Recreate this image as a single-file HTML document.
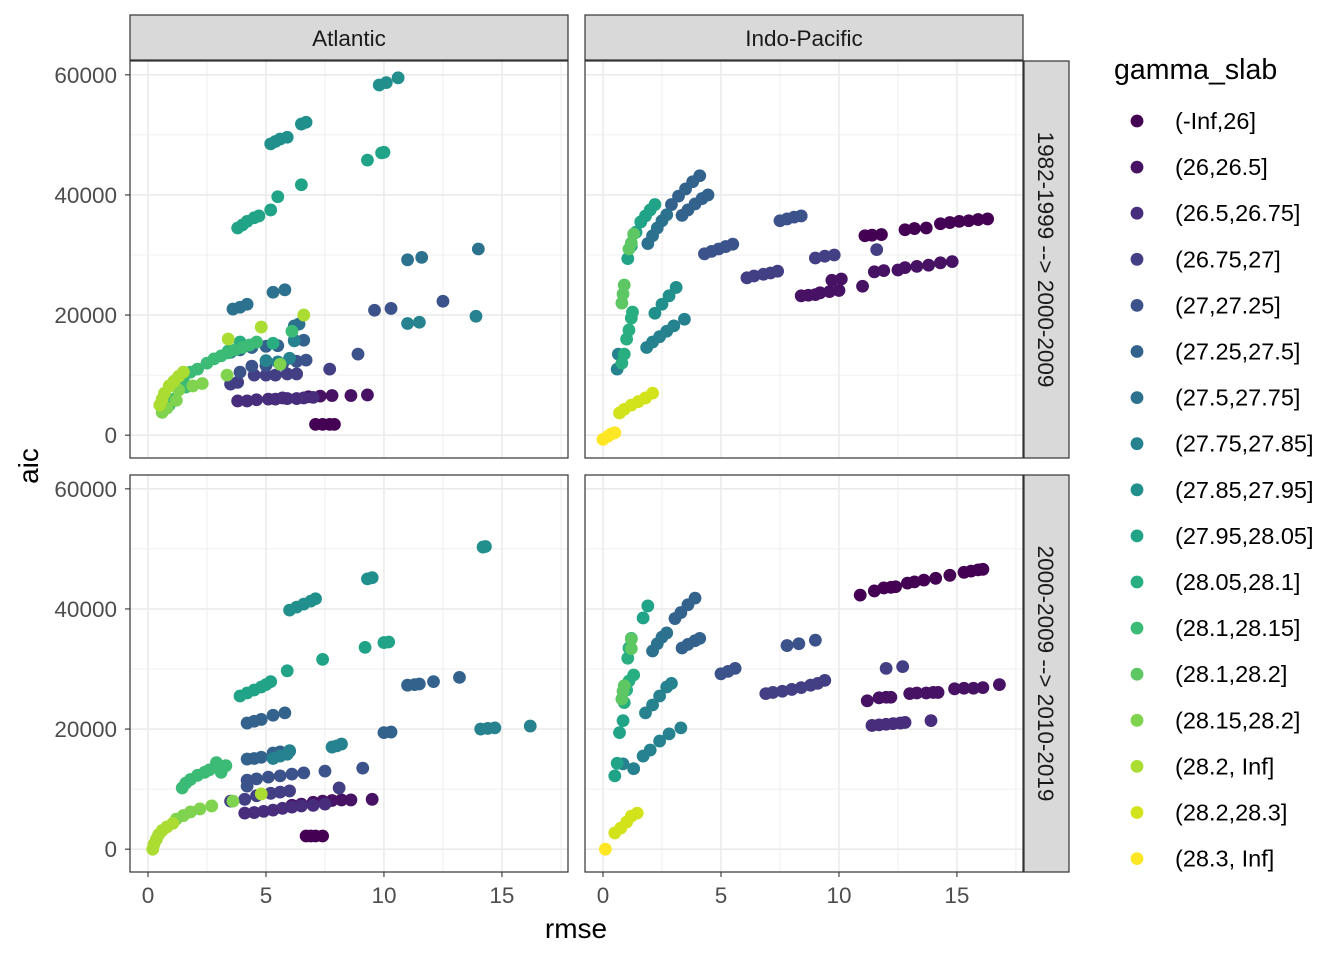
<!DOCTYPE html>
<html><head><meta charset="utf-8"><style>
body{margin:0;background:#fff;}
svg{display:block;font-family:"Liberation Sans",sans-serif;}
</style></head><body>
<svg id="chart" width="1344" height="960" xmlns="http://www.w3.org/2000/svg"></svg>
<script>
const classLabels = ["(-Inf,26]","(26,26.5]","(26.5,26.75]","(26.75,27]","(27,27.25]","(27.25,27.5]","(27.5,27.75]","(27.75,27.85]","(27.85,27.95]","(27.95,28.05]","(28.05,28.1]","(28.1,28.15]","(28.1,28.2]","(28.15,28.2]","(28.2, Inf]","(28.2,28.3]","(28.3, Inf]"];
const classColors = ["#440154","#471164","#472D7B","#423F85","#3B528B","#33638D","#2C728E","#26828E","#21908C","#20A386","#28AE80","#3BBB75","#5DC863","#7FD34E","#AADC32","#D2E21B","#FDE725"];
const xTicks = [0,5,10,15];
const yTicks = [0,20000,40000,60000];
const colLabels = ["Atlantic","Indo-Pacific"];
const rowLabels = ["1982-1999 --> 2000-2009","2000-2009 --> 2010-2019"];
// points: [rmse, aic (thousands), class index]
const atl1 = [[7.1,1.8,0],[7.4,1.8,0],[7.7,1.8,0],[7.9,1.8,0],
[6.8,6.4,1],[7.3,6.5,1],[7.8,6.6,1],[8.6,6.6,1],[9.3,6.7,1],
[3.8,5.7,2],[4.2,5.7,2],[4.6,5.9,2],[5.1,6.0,2],[5.4,6.0,2],[5.7,6.2,2],[5.9,6.1,2],[6.3,6.1,2],[6.6,6.2,2],[7.0,6.3,2],
[3.5,8.5,3],[3.8,8.8,3],[4.5,10,3],[5.0,10,3],[5.4,10,3],[5.9,10.2,3],[6.3,10.2,3],[7.7,11,3],
[3.9,10.5,4],[4.4,11.5,4],[5.0,11.6,4],[5.7,11.8,4],[6.3,12.3,4],[6.7,12.5,4],[8.9,13.5,4],[9.6,20.8,4],[10.3,21.1,4],[12.5,22.3,4],
[3.5,13.8,5],[3.9,14.2,5],[4.4,14.6,5],[5.0,14.8,5],[5.5,14.9,5],[6.2,15.8,5],[6.6,15.8,5],
[3.6,21,6],[3.9,21.3,6],[4.2,21.8,6],[5.3,23.8,6],[5.8,24.2,6],[6.2,18.2,6],[6.4,18.5,6],[11,29.2,6],[11.6,29.6,6],[14,31,6],
[6.2,15.7,7],[6.0,12.8,7],[5.5,12.2,7],[5.0,12.4,7],[11,18.6,7],[11.5,18.8,7],[13.9,19.8,7],
[5.2,48.5,8],[5.4,48.9,8],[5.6,49.3,8],[5.9,49.6,8],[6.5,51.8,8],[6.7,52.1,8],[9.8,58.3,8],[10.1,58.7,8],[10.6,59.5,8],
[3.8,34.5,9],[4.0,35,9],[4.2,35.6,9],[4.5,36.2,9],[4.7,36.5,9],[5.2,37.5,9],[5.5,39.7,9],[6.5,41.7,9],[9.3,45.8,9],[9.9,47,9],[10.0,47.1,9],
[3.4,14,10],[3.9,15.5,10],[5.3,15.3,10],
[0.9,5,11],[1.1,6,11],[1.5,9.5,11],[1.6,8,11],[1.8,10.5,11],[2.1,11,11],[2.5,12,11],[2.8,12.7,11],[3.1,13.2,11],[3.4,13.7,11],[3.7,14.2,11],[4.0,14.6,11],[4.3,15,11],[4.6,15.5,11],[6.1,17.3,11],
[0.6,3.8,13],[0.8,4.5,13],[1.2,5.8,13],[1.3,7.5,13],[1.9,8.2,13],[2.3,8.6,13],[3.35,10,13],[5.6,11.8,13],
[0.5,5,14],[0.6,6,14],[0.7,7,14],[0.9,8.2,14],[1.1,9,14],[1.3,9.8,14],[1.5,10.5,14],[3.4,16,14],[4.8,18,14],[6.6,20,14]];
const ind1 = [[11.1,33.2,0],[11.4,33.3,0],[11.8,33.4,0],[12.8,34.2,0],[13.2,34.4,0],[13.7,34.5,0],[14.3,35.2,0],[14.7,35.4,0],[15.1,35.6,0],[15.5,35.7,0],[15.9,35.9,0],[16.3,36.0,0],
[8.4,23.2,1],[8.7,23.3,1],[9.0,23.4,1],[9.2,23.7,1],[9.6,23.9,1],[10.0,24.1,1],[9.7,25.8,1],[10.1,26,1],[11.0,24.8,1],[11.5,27.2,1],[11.9,27.4,1],[12.5,27.5,1],[12.8,27.9,1],[13.3,28.1,1],[13.8,28.3,1],[14.3,28.7,1],[14.8,28.9,1],
[6.1,26.2,3],[6.4,26.5,3],[6.8,26.8,3],[7.1,27,3],[7.4,27.3,3],[9.0,29.5,3],[9.4,29.8,3],[9.8,30,3],[11.6,30.9,3],
[7.5,35.7,4],[7.8,36,4],[8.1,36.3,4],[8.4,36.5,4],[4.3,30.2,4],[4.6,30.6,4],[4.9,31,4],[5.2,31.4,4],[5.5,31.8,4],
[3.35,36.6,5],[3.6,37.5,5],[3.9,38.5,5],[4.2,39.4,5],[4.45,40,5],[2.9,38.4,5],[3.2,39.8,5],[3.5,41,5],[3.8,42.2,5],[4.1,43.2,5],
[1.9,31.9,6],[2.1,33.2,6],[2.3,34.5,6],[2.5,35.7,6],[2.7,36.7,6],
[1.85,14.6,7],[2.1,15.5,7],[2.4,16.4,7],[2.7,17.3,7],[3.0,18.2,7],[3.45,19.3,7],[0.6,11,7],[0.65,13.5,7],
[2.2,20.3,8],[2.5,21.8,8],[2.8,23.2,8],[3.1,24.6,8],
[1.05,29.4,9],[1.2,31.5,9],[1.4,33.8,9],[1.6,35.5,9],[1.8,36.5,9],[2.0,37.5,9],[2.2,38.4,9],
[0.8,12,10],[0.9,13.5,10],[1.0,16,10],[1.1,17.5,10],[1.2,19.5,10],[1.25,20.5,10],
[1.1,31,12],[1.2,32,12],[1.3,33.5,12],[0.8,22,12],[0.85,23.5,12],[0.9,25,12],
[0.7,3.7,15],[0.9,4.3,15],[1.2,5,15],[1.5,5.6,15],[1.8,6.2,15],[2.1,7,15],
[0,-0.7,16],[0.2,-0.2,16],[0.35,0.2,16],[0.5,0.4,16]];
const atl2 = [[6.7,2.2,0],[6.9,2.2,0],[7.1,2.2,0],[7.4,2.2,0],
[6.1,7.3,1],[6.5,7.5,1],[7.0,7.8,1],[7.4,8,1],[7.8,8.1,1],[8.2,8.2,1],[8.6,8.2,1],[9.5,8.3,1],
[4.1,6,2],[4.5,6.1,2],[4.9,6.3,2],[5.3,6.5,2],[5.7,6.8,2],[6.1,7,2],[6.5,7.2,2],[7.0,7.3,2],[7.5,7.5,2],
[3.5,8,3],[4.1,8.3,3],[4.6,8.9,3],[5.2,9.3,3],[5.6,9.5,3],[6.0,9.7,3],[8.1,10.2,3],
[4.2,10.5,4],[4.2,11.5,4],[4.6,11.7,4],[5.1,12,4],[5.6,12.2,4],[6.1,12.5,4],[6.6,12.7,4],[7.5,13,4],[9.1,13.5,4],
[4.2,15,5],[4.5,15.1,5],[4.8,15.3,5],[5.3,16,5],[5.6,16.2,5],[6.0,16.3,5],[10.0,19.4,5],[10.3,19.5,5],[4.2,21,5],[4.5,21.3,5],[4.8,21.6,5],[5.3,22.3,5],[5.8,22.7,5],[11,27.3,5],[11.3,27.4,5],[11.5,27.5,5],[12.1,27.9,5],[13.2,28.6,5],
[5.3,15.1,7],[5.6,15.5,7],[5.9,15.8,7],[6.0,16.4,7],[7.8,17,7],[8.0,17.2,7],[8.2,17.5,7],[14.1,20,7],[14.4,20.1,7],[14.7,20.2,7],[16.2,20.5,7],
[6.0,39.8,8],[6.3,40.3,8],[6.6,40.8,8],[6.9,41.3,8],[7.1,41.7,8],[9.3,45,8],[9.5,45.2,8],[14.2,50.3,8],[14.3,50.4,8],
[3.9,25.5,9],[4.2,26,9],[4.5,26.5,9],[4.8,27,9],[5.0,27.4,9],[5.2,27.9,9],[5.9,29.7,9],[7.4,31.6,9],[9.2,33.6,9],[10.0,34.4,9],[10.2,34.5,9],
[1.45,10.2,11],[1.6,11,11],[1.8,11.6,11],[2.1,12.3,11],[2.4,12.8,11],[2.6,13.2,11],[2.9,14.4,11],[3.1,12.8,11],[3.3,13.9,11],
[1.2,5,13],[1.5,5.6,13],[1.8,6.2,13],[2.2,6.7,13],[2.7,7.2,13],[3.6,8,13],
[0.2,0,14],[0.25,0.8,14],[0.35,1.6,14],[0.45,2.4,14],[0.6,3.1,14],[0.8,3.7,14],[1.05,4.3,14],[4.8,9.2,14]];
const ind2 = [[10.9,42.3,0],[11.5,43,0],[11.9,43.5,0],[12.2,43.6,0],[12.4,43.7,0],[12.9,44.3,0],[13.2,44.5,0],[13.6,44.8,0],[14.1,45.1,0],[14.7,45.6,0],[15.3,46.1,0],[15.6,46.3,0],[15.9,46.5,0],[16.1,46.6,0],
[11.2,24.7,1],[11.7,25.2,1],[12.0,25.3,1],[12.2,25.3,1],[13,25.9,1],[13.3,26,1],[13.7,26,1],[14.0,26.1,1],[14.2,26.1,1],[14.9,26.7,1],[15.3,26.8,1],[15.7,26.8,1],[16.1,26.9,1],[16.8,27.4,1],
[11.4,20.6,2],[11.7,20.7,2],[12.0,20.8,2],[12.3,20.9,2],[12.6,21,2],[12.8,21.1,2],[13.9,21.4,2],
[12.0,30.1,3],[12.7,30.4,3],[6.9,25.9,3],[7.2,26.1,3],[7.6,26.3,3],[8.0,26.6,3],[8.4,26.9,3],[8.8,27.3,3],[9.1,27.6,3],[9.4,28.1,3],
[7.8,33.9,4],[8.3,34.2,4],[9.0,34.8,4],[5.0,29.2,4],[5.3,29.6,4],[5.6,30.1,4],
[3.35,33.5,5],[3.6,34.1,5],[3.9,34.7,5],[4.1,35.1,5],[3.05,38.4,5],[3.3,39.4,5],[3.6,40.7,5],[3.9,41.8,5],
[2.1,33,6],[2.3,34.2,6],[2.5,35.3,6],[2.7,36,6],
[1.8,22.7,7],[2.1,24,7],[2.4,25.5,7],[2.7,27,7],[2.9,27.6,7],[1.7,15.5,7],[2.0,16.5,7],[2.4,18,7],[2.8,19.2,7],[3.3,20.2,7],[1.3,13.4,7],[0.85,14.2,7],
[1.7,38.5,9],[1.9,40.5,9],[0.5,12.2,9],[0.6,14.3,9],[0.7,19.4,9],[0.85,21.4,9],
[1.05,31.8,10],[1.1,33.5,10],[1.2,35.1,10],[0.9,24.4,10],[1.0,26.5,10],[1.1,28,10],[1.3,29,10],
[1.2,33.4,12],[1.2,35,12],[0.8,25,12],[0.85,26.3,12],[0.9,27.2,12],
[0.5,2.7,15],[0.75,3.5,15],[1.0,4.5,15],[1.2,5.5,15],[1.45,6,15],
[0.1,0,16]];
const panelData = [[atl1, ind1],[atl2, ind2]];

const NS = "http://www.w3.org/2000/svg";
const svg = document.getElementById("chart");
function mk(tag, attrs, parent){const e=document.createElementNS(NS,tag);for(const k in attrs)e.setAttribute(k,attrs[k]);(parent||svg).appendChild(e);return e;}
const colX = [130, 585], rowY = [61, 475], PW = 438, PH = 397;
const xMin = -0.763, xMax = 17.8, yMin = -3800, yMax = 62300;
function sx(c, v){return colX[c] + (v - xMin) / (xMax - xMin) * PW;}
function sy(r, v){return rowY[r] + PH - (v - yMin) / (yMax - yMin) * PH;}

for (let r = 0; r < 2; r++) {
  for (let c = 0; c < 2; c++) {
    const g = mk("g", {});
    
    
    mk("rect", {x: colX[c], y: rowY[r], width: PW, height: PH, fill: "#fff"}, g);
    [2.5,7.5,12.5,17.5].forEach(v => mk("line", {x1: sx(c,v), x2: sx(c,v), y1: rowY[r], y2: rowY[r]+PH, stroke: "#EBEBEB", "stroke-width": 0.8}, g));
    [10000,30000,50000].forEach(v => mk("line", {x1: colX[c], x2: colX[c]+PW, y1: sy(r,v), y2: sy(r,v), stroke: "#EBEBEB", "stroke-width": 0.8}, g));
    xTicks.forEach(v => mk("line", {x1: sx(c,v), x2: sx(c,v), y1: rowY[r], y2: rowY[r]+PH, stroke: "#EBEBEB", "stroke-width": 1.6}, g));
    yTicks.forEach(v => mk("line", {x1: colX[c], x2: colX[c]+PW, y1: sy(r,v), y2: sy(r,v), stroke: "#EBEBEB", "stroke-width": 1.6}, g));
    panelData[r][c].forEach(p => {
      const dot = mk("circle", {cx: sx(c,p[0]), cy: sy(r,p[1]*1000), r: 6.4, fill: classColors[p[2]]}, g);
      
      
    });
    mk("rect", {x: colX[c], y: rowY[r], width: PW, height: PH, fill: "none", stroke: "#333", "stroke-width": 1.2}, g);
    if (c === 0) {
      yTicks.forEach(v => {
        mk("line", {x1: colX[0]-5, x2: colX[0], y1: sy(r,v), y2: sy(r,v), stroke: "#333", "stroke-width": 1.1});
        const t = mk("text", {x: colX[0]-13, y: sy(r,v)+8, "text-anchor": "end", "font-size": 22.5, fill: "#4D4D4D"});
        t.textContent = v;
        
        
      });
    }
    if (r === 1) {
      xTicks.forEach(v => {
        mk("line", {x1: sx(c,v), x2: sx(c,v), y1: rowY[1]+PH, y2: rowY[1]+PH+5, stroke: "#333", "stroke-width": 1.1});
        const t = mk("text", {x: sx(c,v), y: 903, "text-anchor": "middle", "font-size": 22.5, fill: "#4D4D4D"});
        t.textContent = v;
        
        
      });
    }
  }
}
// strips
colLabels.forEach((lab, c) => {
  const s = mk("rect", {x: colX[c], y: 15, width: PW, height: 45, fill: "#D9D9D9", stroke: "#333", "stroke-width": 1.2});
  
  
  const t = mk("text", {x: colX[c]+PW/2, y: 46, "text-anchor": "middle", "font-size": 22.5, fill: "#1A1A1A"});
  t.textContent = lab;
  
  
});
rowLabels.forEach((lab, r) => {
  const s = mk("rect", {x: 1024, y: rowY[r], width: 45, height: PH, fill: "#D9D9D9", stroke: "#333", "stroke-width": 1.2});
  
  
  const cy = rowY[r] + PH/2;
  const t = mk("text", {x: cy, y: -1038, "text-anchor": "middle", "font-size": 22.5, fill: "#1A1A1A", transform: "rotate(90)"});
  t.textContent = lab;
  
  
});
// axis titles
const xt = mk("text", {x: 576, y: 938, "text-anchor": "middle", "font-size": 28, fill: "#000"});
xt.textContent = "rmse";


const yt = mk("text", {x: 38, y: 466, "text-anchor": "middle", "font-size": 28, fill: "#000", transform: "rotate(-90 38 466)"});
yt.textContent = "aic";


// legend
const lt = mk("text", {x: 1114, y: 79, "font-size": 28.5, fill: "#000"});
lt.textContent = "gamma_slab";


classLabels.forEach((lab, i) => {
  const y = 121 + i * 46.1;
  const g = mk("g", {});
  
  
  mk("circle", {cx: 1137, cy: y, r: 6.4, fill: classColors[i]}, g);
  const t = mk("text", {x: 1175, y: y+8, "font-size": 23.5, fill: "#000"}, g);
  t.textContent = lab;
});
</script>
</body></html>
